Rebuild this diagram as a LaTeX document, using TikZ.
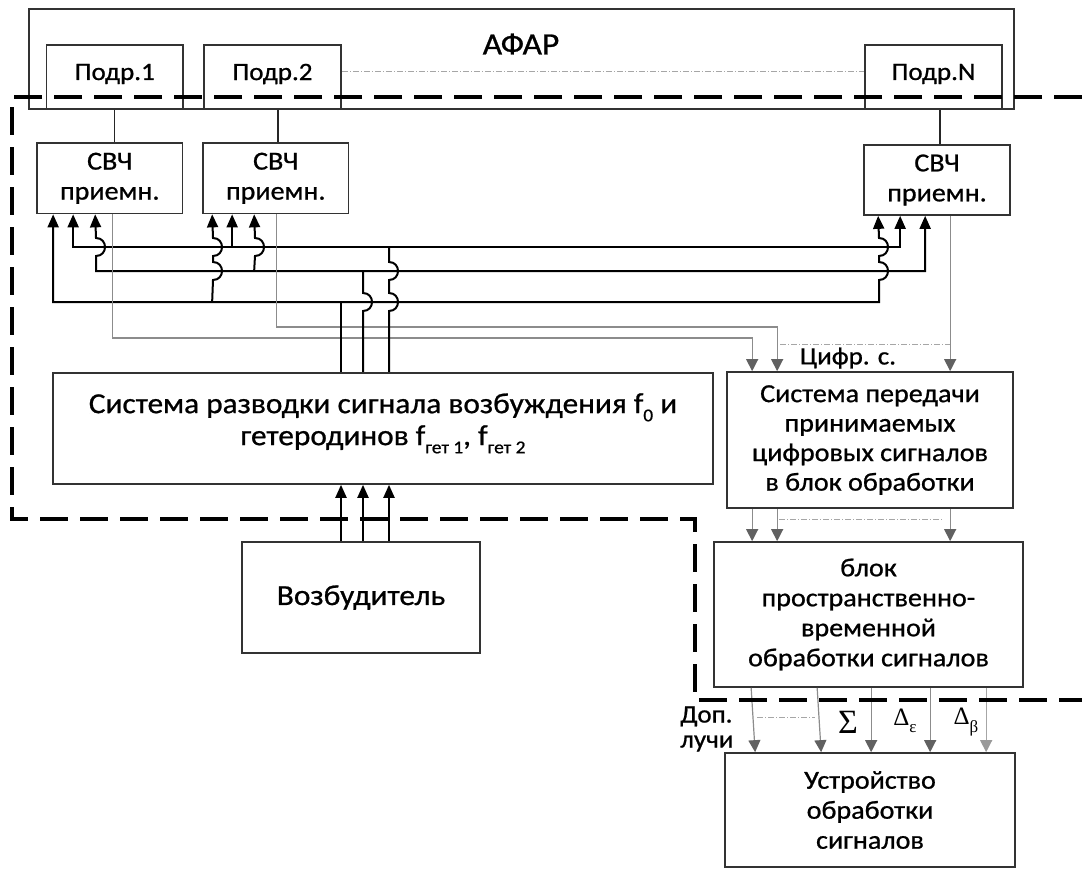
\documentclass[tikz,border=0pt]{standalone}
\usepackage[no-math]{fontspec}
\setmainfont[FakeStretch=1.08,FakeBold=0.8]{Carlito}
\newfontfamily\grk{Liberation Serif}
\usetikzlibrary{arrows.meta,calc}
\newcommand\lsub[1]{\raisebox{-0.28em}{\fontsize{18}{18}\selectfont #1}}
\newcommand\gsub[1]{\raisebox{-0.3em}{\fontsize{17}{17}\selectfont\grk #1}}
\begin{document}
\begin{tikzpicture}[x=1pt,y=-1pt,
  box/.style={draw=black!80, line width=1.7pt, inner sep=0pt, align=center, text=black},
  fP/.style={font=\fontsize{25}{30}\selectfont},
  fS/.style={font=\fontsize{26}{30}\selectfont},
  fC/.style={font=\fontsize{29}{32}\selectfont},
  fT/.style={font=\fontsize{26}{29.5}\selectfont},
  fU/.style={font=\fontsize{26}{30}\selectfont},
  bl/.style={line width=2pt, black},
  tl/.style={line width=1.5pt, black!85},
  barr/.style={bl, -{Triangle[length=13pt,width=11pt]}},
  bbarr/.style={bl, {Triangle[length=13pt,width=11pt]}-{Triangle[length=13pt,width=11pt]}},
  gl/.style={line width=1.2pt, black!45},
  garr/.style={gl, -{Triangle[length=12pt,width=12pt,color=black!62]}},
  garrl/.style={line width=1.2pt, black!35, -{Triangle[length=12pt,width=12pt,color=black!40]}},
  dd/.style={line width=0.8pt, black!35, dash pattern=on 6pt off 2pt on 1pt off 2pt},
  border/.style={line width=3.5pt, black, dash pattern=on 28pt off 12pt}
]
\useasboundingbox (0,0) rectangle (1082,868);

% ---- AFAR ----
\node[box, minimum width=985pt, minimum height=100pt] (afar) at (521.3,59.2) {};
\node[font=\fontsize{31}{32}\selectfont, inner sep=0pt] (afart) at (521,44) {АФАР};
\node[box, minimum width=136.5pt, minimum height=64pt] (p1) at (114.75,77) {};
\node[box, minimum width=137pt, minimum height=64pt] (p2) at (272.5,77) {};
\node[box, minimum width=137pt, minimum height=64pt] (pN) at (933.5,77) {};
\node[fP, inner sep=0pt] (p1t) at ($(p1.center)+(0,-3)$) {Подр.1};
\node[fP, inner sep=0pt] (p2t) at ($(p2.center)+(0,-3)$) {Подр.2};
\node[fP, inner sep=0pt] (pNt) at ($(pN.center)+(0,-3)$) {Подр.N};
\draw[dd] (p2.east |- 0,71) -- (pN.west |- 0,71);

% ---- receivers ----
\node[box, fS, minimum width=145.5pt, minimum height=70.5pt] (s1) at (109.75,178.25) {СВЧ\\приемн.};
\node[box, fS, minimum width=145.5pt, minimum height=70.5pt] (s2) at (275.75,178.25) {СВЧ\\приемн.};
\node[box, fS, minimum width=146pt, minimum height=70pt] (sN) at (937,180) {СВЧ\\приемн.};

\coordinate (l1) at ($(p1.south)+(-0.5,0)$);
\coordinate (l2) at ($(s2.north)+(2,0)$);
\coordinate (lN) at ($(sN.north)+(3,0)$);
\draw[tl] (l1) -- (l1 |- s1.north);
\draw[tl] (l2 |- p2.south) -- (l2);
\draw[tl] (lN |- pN.south) -- (lN);

% ---- other blocks ----
\node[box, minimum width=660pt, minimum height=111.3pt] (sr) at (383,428.3) {};
\node[fC, align=center, inner sep=0pt] (srt) at ($(sr.center)+(0,-5)$)
  {Система разводки сигнала возбуждения f\lsub{0} и\\гетеродинов f\lsub{гет 1}, f\lsub{гет 2}};
\node[box, fC, minimum width=238pt, minimum height=111pt] (vz) at (361,597.5) {Возбудитель};
\node[box, fT, minimum width=286pt, minimum height=136pt] (sp) at (870,440)
  {Система передачи\\принимаемых\\цифровых сигналов\\в блок обработки};
\node[box, fU, minimum width=309pt, minimum height=145pt] (bk) at (868.5,614.5)
  {блок\\пространственно-\\временной\\обработки сигналов};
\node[box, fU, minimum width=290pt, minimum height=114pt] (ust) at (870,810)
  {Устройство\\обработки\\сигналов};

% ---- bus levels ----
\coordinate (busA) at (0,247);
\coordinate (busB) at (0,271);
\coordinate (busC) at (0,302);
\coordinate (gy1) at (0,338);
\coordinate (gy2) at (0,327);

\coordinate (a11) at ($(s1.south west)+(17,0)$);
\coordinate (a12) at ($(s1.south west)+(37,0)$);
\coordinate (a13) at ($(s1.south west)+(59,0)$);
\coordinate (g1)  at ($(s1.south west)+(76,0)$);
\coordinate (a21) at ($(s2.south west)+(10,0)$);
\coordinate (a22) at ($(s2.south west)+(30,0)$);
\coordinate (a23) at ($(s2.south west)+(52,0)$);
\coordinate (g2)  at ($(s2.south west)+(74,0)$);
\coordinate (aN1) at ($(sN.south west)+(15,0)$);
\coordinate (aN2) at ($(sN.south west)+(37,0)$);
\coordinate (aN3) at ($(sN.south west)+(62,0)$);
\coordinate (gN)  at ($(sN.south west)+(87,0)$);

% bus C (bottom)
\draw[bbarr] (a11) -- (a11 |- busC) -- (879,302) -- (879,280)
  .. controls (891,280) and (891,262) .. (879,262) -- (879,256)
  .. controls (891,256) and (891,238) .. (879,238) -- (aN1);
% bus A (top)
\draw[bbarr] (a12) -- (a12 |- busA) -- (aN2 |- busA) -- (aN2);
% bus B (middle)
\draw[bbarr] (a13) -- (96,238) .. controls (108,238) and (108,256) .. (96,256)
  -- (96,271) -- (aN3 |- busB) -- (aN3);
% receiver 2 feeds
\draw[barr] (a21 |- busC) -- (213,280) .. controls (225,280) and (225,262) .. (213,262)
  -- (213,256) .. controls (225,256) and (225,238) .. (213,238) -- (a21);
\draw[barr] (a22 |- busA) -- (a22);
\draw[barr] (a23 |- busB) -- (255,256) .. controls (267,256) and (267,238) .. (255,238) -- (a23);

% feeds from distribution system
\coordinate (v1) at ($(sr.north)+(-42,0)$);
\coordinate (v2) at ($(sr.north)+(-20,0)$);
\coordinate (v3) at ($(sr.north)+(6,0)$);

% gray digital lines
\coordinate (t1) at ($(sp.north west)+(26,0)$);
\coordinate (t2) at ($(sp.north west)+(51,0)$);
\coordinate (t3) at ($(sp.north west)+(224,0)$);
\draw[garr] (g1) -- (g1 |- gy1) -- (t1 |- gy1) -- (t1);
\draw[garr] (g2) -- (g2 |- gy2) -- (t2 |- gy2) -- (t2);
\draw[garr] (gN) -- (t3);
\draw[dd] (780,344) -- (gN |- 0,344);

\draw[bl] (v1 |- busC) -- (v1);
\draw[bl] (v2 |- busB) -- (363,293) .. controls (375,293) and (375,311) .. (363,311) -- (v2);
\draw[bl] (v3 |- busA) -- (389,262) .. controls (401,262) and (401,280) .. (389,280)
  -- (389,293) .. controls (401,293) and (401,311) .. (389,311) -- (v3);

\draw[barr] (v1 |- vz.north) -- (v1 |- sr.south);
\draw[barr] (v2 |- vz.north) -- (v2 |- sr.south);
\draw[barr] (v3 |- vz.north) -- (v3 |- sr.south);

\node[font=\fontsize{25}{25}\selectfont, inner sep=0pt] (cif) at (848,358) {Цифр. с.};

% sp -> bk
\draw[garr] (t1 |- sp.south) -- (t1 |- bk.north);
\draw[garr] (t2 |- sp.south) -- (t2 |- bk.north);
\draw[garr] (t3 |- sp.south) -- (t3 |- bk.north);
\draw[dd] (779,519) -- (943,519);

% bk -> ust
\coordinate (o1) at ($(bk.south west)+(38,0)$);
\coordinate (o2) at ($(bk.south west)+(104,0)$);
\coordinate (o3) at ($(bk.south west)+(158,0)$);
\coordinate (o4) at ($(bk.south west)+(217,0)$);
\coordinate (o5) at ($(bk.south west)+(273,0)$);
\coordinate (u1) at ($(ust.north west)+(31,0)$);
\coordinate (u2) at ($(ust.north west)+(97,0)$);
\coordinate (u3) at ($(ust.north west)+(147,0)$);
\coordinate (u4) at ($(ust.north west)+(206,0)$);
\coordinate (u5) at ($(ust.north west)+(262,0)$);
\draw[garr] (o1) -- (u1);
\draw[garr] (o2) -- (u2);
\draw[garr] (o3) -- (u3);
\draw[garr] (o4) -- (u4);
\draw[garrl] (o5) -- (u5);
\draw[dd] (757,717) -- (815,717);

\node[font=\fontsize{25}{25}\selectfont, anchor=west, align=left, inner sep=0pt] (dop) at (680,729) {Доп.\\лучи};
\node[font=\fontsize{34}{34}\selectfont\grk, inner sep=0pt] (sig) at (848,722) {Σ};
\node[font=\fontsize{25}{25}\selectfont\grk, inner sep=0pt] (de) at (905,721) {Δ\gsub{ε}};
\node[font=\fontsize{25}{25}\selectfont\grk, inner sep=0pt] (db) at (966,722) {Δ\gsub{β}};

% ---- dashed boundary ----
\draw[border] (1082,97) -- (12,97) -- (12,519) -- (695,519) -- (695,700) -- (1082,700);
\end{tikzpicture}
\end{document}
